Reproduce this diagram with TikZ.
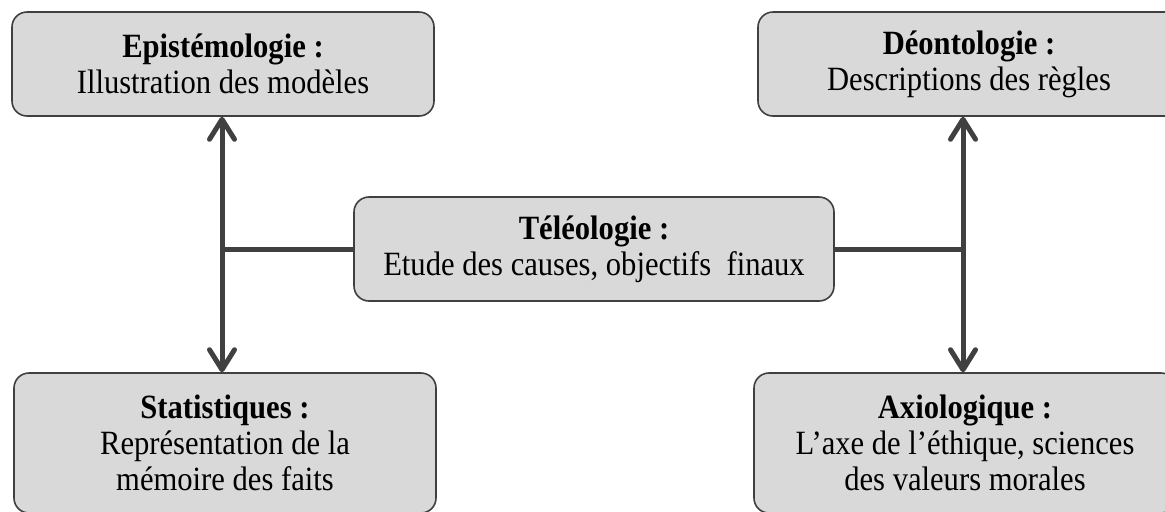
\documentclass[tikz,border=0pt]{standalone}
\usepackage{fontspec}
\setmainfont{Liberation Serif}[FakeStretch=0.9]
\usetikzlibrary{arrows.meta, positioning}
\definecolor{cfill}{HTML}{D9D9D9}
\definecolor{cdark}{HTML}{404040}
\tikzset{
  every picture/.style={x=0.5pt, y=-0.5pt},
  box/.style={draw=cdark, fill=cfill, rounded corners=7.5pt, align=center, line width=0.8pt, inner sep=0pt,
    font=\fontsize{17}{18}\selectfont, minimum width=211pt, minimum height=52pt},
  arrow/.style={{Straight Barb[length=10pt, width=12.5pt, round]}-{Straight Barb[length=10pt, width=12.5pt, round]}, draw=cdark, line width=2.5pt},
  link/.style={draw=cdark, line width=2.5pt},
}

\begin{document}
\begin{tikzpicture}
  \clip (0,0) rectangle (1165,511);
  \useasboundingbox (0,0) rectangle (1165,511);
  % the five boxes
  \node[box] (epi) at (223,64) {\textbf{Epistémologie :}\\Illustration des modèles};
  \node[box] (deo) at (969,64) {\textbf{Déontologie :}\\Descriptions des règles};
  \node[box, minimum width=240pt] (tel) at (594,249) {\textbf{Téléologie :}\\Etude des causes, objectifs\ \ finaux};
  \node[box, minimum height=70pt] (sta) at (225,443) {\textbf{Statistiques :}\\Représentation de la\\mémoire des faits};
  \node[box, minimum height=70pt] (axi) at (965,443) {\textbf{Axiologique :}\\L’axe de l’éthique, sciences\\des valeurs morales};
  % junctions on the two axes
  \coordinate (lj) at (222,249);
  \coordinate (rj) at (963,249);
  \draw[arrow] (epi.south -| lj) -- (sta.north -| lj);
  \draw[arrow] (deo.south -| rj) -- (axi.north -| rj);
  \draw[link] (tel.west) -- (lj);
  \draw[link] (tel.east) -- (rj);
\end{tikzpicture}
\end{document}
